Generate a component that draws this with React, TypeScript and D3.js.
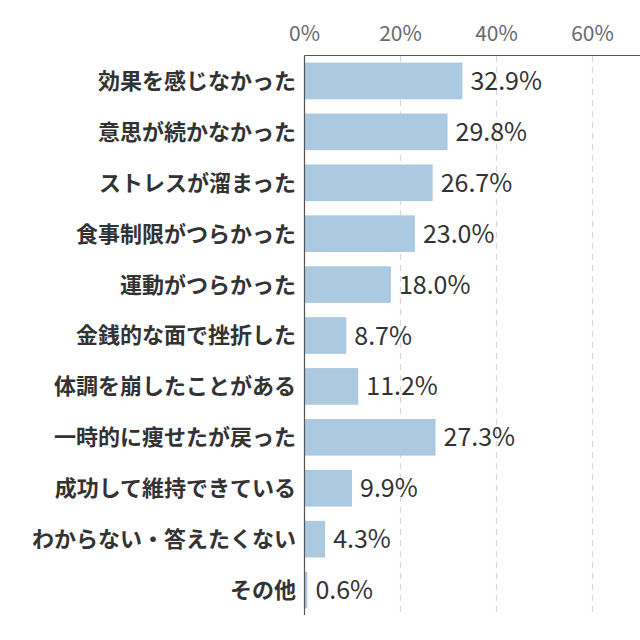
import React from "react";
import * as d3 from "d3";

const categories = [
  "効果を感じなかった",
  "意思が続かなかった",
  "ストレスが溜まった",
  "食事制限がつらかった",
  "運動がつらかった",
  "金銭的な面で挫折した",
  "体調を崩したことがある",
  "一時的に痩せたが戻った",
  "成功して維持できている",
  "わからない・答えたくない",
  "その他",
];
const values = [32.9, 29.8, 26.7, 23.0, 18.0, 8.7, 11.2, 27.3, 9.9, 4.3, 0.6];
const ticks = [0, 20, 40, 60];

export default function App() {
  const x = d3.scaleLinear().domain([0, 70]).range([304.5, 640.5]);
  const y = d3.scaleBand<string>().domain(categories).range([55.5, 615.5]).paddingInner(0.28).paddingOuter(0.14);
  const font = "'Noto Sans CJK JP', 'Noto Sans', sans-serif";
  return (
    <div style={{ position: "absolute", left: 0, top: 0 }}>
      <svg width={640} height={640} style={{ display: "block", background: "#fff" }}>
        {ticks.slice(1).map((t) => (
          <line key={t} x1={x(t)} x2={x(t)} y1={56} y2={615} stroke="#d8d8d8" strokeWidth={1.2} strokeDasharray="6,5" />
        ))}
        {categories.map((c, i) => (
          <rect key={c} x={x(0)} y={y(c)} width={x(values[i]) - x(0)} height={y.bandwidth()} fill="#abc9e1" />
        ))}
        <line x1={x(0)} x2={640} y1={55.5} y2={55.5} stroke="#555" strokeWidth={1.2} />
        <line x1={x(0)} x2={x(0)} y1={55.5} y2={615} stroke="#555" strokeWidth={1.2} />
        {ticks.map((t) => (
          <text key={t} x={x(t)} y={41} textAnchor="middle" fontFamily={font} fontSize={21} fill="#6a6a6a">
            {t}%
          </text>
        ))}
        {categories.map((c, i) => (
          <text key={c} x={296} y={(y(c) as number) + y.bandwidth() / 2} dy="0.36em" textAnchor="end" fontFamily={font} fontSize={22} fontWeight={700} fill="#333">
            {c}
          </text>
        ))}
        {categories.map((c, i) => (
          <text key={c} x={x(values[i]) + 8} y={(y(c) as number) + y.bandwidth() / 2} dy="0.36em" fontFamily={font} fontSize={25} fill="#333">
            {values[i].toFixed(1)}%
          </text>
        ))}
      </svg>
    </div>
  );
}
